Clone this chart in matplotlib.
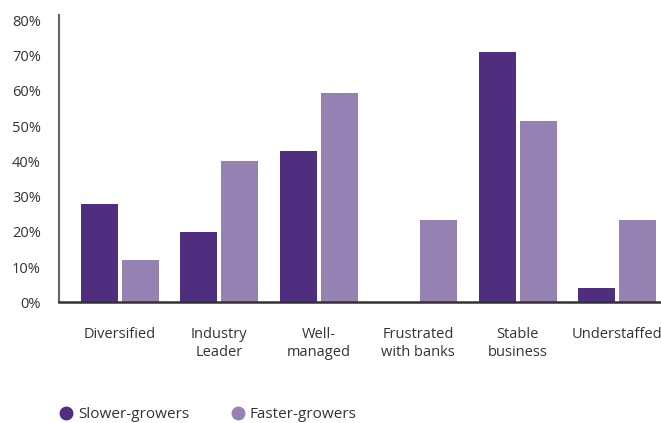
import numpy as np
import matplotlib.pyplot as plt
from matplotlib.lines import Line2D
from matplotlib.ticker import PercentFormatter

categories = ["Diversified", "Industry\nLeader", "Well-\nmanaged",
              "Frustrated\nwith banks", "Stable\nbusiness", "Understaffed"]
slower = [0.28, 0.20, 0.43, 0.0, 0.71, 0.04]
faster = [0.12, 0.40, 0.595, 0.235, 0.515, 0.235]
series_names = ["Slower-growers", "Faster-growers"]

dark = "#4F2D7F"
light = "#9581B2"
text_col = "#333333"

plt.rcParams['font.family'] = ['Open Sans', 'DejaVu Sans']

fig = plt.figure(figsize=(6.61, 4.23), dpi=100)
ax = fig.add_axes([0.0893, 0.285, 0.9107, 0.6795])

x = np.arange(len(categories))
w = 0.37
ax.bar(x - 0.205, slower, w, color=dark)
ax.bar(x + 0.205, faster, w, color=light)

ax.set_xlim(-0.61, 5.44)
ax.set_ylim(0, 0.8156)
ax.set_yticks(np.arange(0, 0.81, 0.1))
ax.yaxis.set_major_formatter(PercentFormatter(1.0, decimals=0))
ax.set_xticks(x)
ax.set_xticklabels(categories, linespacing=1.2)
ax.tick_params(axis='y', length=0, pad=13, labelsize=10.5, labelcolor=text_col)
ax.tick_params(axis='x', length=0, pad=18, labelsize=10.5, labelcolor=text_col)

for s in ["top", "right"]:
    ax.spines[s].set_visible(False)
ax.spines["left"].set_color("#666666")
ax.spines["left"].set_linewidth(1.5)
ax.spines["bottom"].set_color("#333333")
ax.spines["bottom"].set_linewidth(1.8)

handles = [Line2D([], [], marker='o', linestyle='', markersize=9, color=c)
           for c in (dark, light)]
fig.legend(handles, series_names, loc='lower left', bbox_to_anchor=(0.068, -0.03),
           ncol=2, frameon=False, fontsize=11, labelcolor=text_col,
           handletextpad=0.25, columnspacing=2.7, handlelength=1.0)

fig.savefig("out.png", dpi=100, facecolor="white")
